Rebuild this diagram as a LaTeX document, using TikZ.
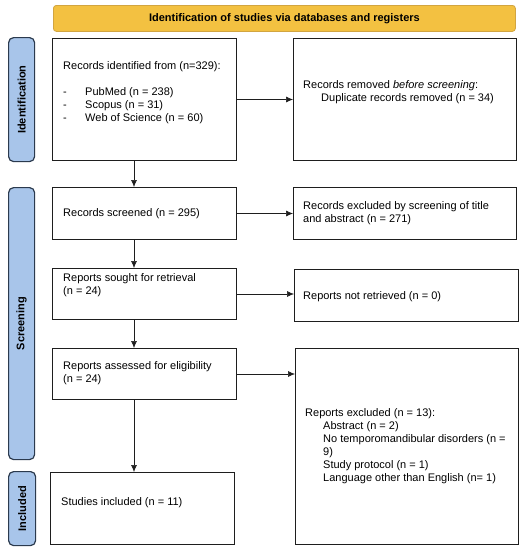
\documentclass[tikz,border=0pt]{standalone}
\usepackage{fontspec}
\setmainfont{Liberation Sans}
\usetikzlibrary{arrows.meta}
\definecolor{bannerfill}{HTML}{F3C141}
\definecolor{bannerdraw}{HTML}{D2A540}
\definecolor{sidefill}{HTML}{A8C5EA}
\definecolor{sidedraw}{HTML}{2B3A4E}
\definecolor{boxdraw}{HTML}{1E1E1E}
\tikzset{
  box/.style={draw=boxdraw, line width=1pt, rectangle, anchor=north west, inner sep=0pt},
  txt/.style={anchor=west, align=left, inner sep=0pt, font=\fontsize{11}{13}\selectfont},
  side/.style={draw=sidedraw, fill=sidefill, line width=1.2pt, rounded corners=5pt, anchor=north west, inner sep=0pt},
  sidelabel/.style={rotate=90, font=\fontsize{11}{13}\selectfont\bfseries, inner sep=0pt},
  arr/.style={line width=0.6pt, draw=boxdraw, -{Latex[length=7pt,width=6pt]}},
}
\begin{document}
\begin{tikzpicture}[x=1pt,y=-1pt]
\useasboundingbox (0,0) rectangle (524,550);
% banner
\node[draw=bannerdraw, fill=bannerfill, line width=0.8pt, rounded corners=3pt, anchor=north west, inner sep=0pt,
      minimum width=462pt, minimum height=26pt] (banner) at (53,5) {};
\node[font=\fontsize{11}{13}\selectfont\bfseries, inner sep=0pt] (bannertxt) at (banner.center) {Identification of studies via databases and registers};
% side bars
\node[side, minimum width=26pt, minimum height=124pt] (s1) at (8,37) {};
\node[sidelabel] (s1t) at (s1.center) {Identification};
\node[side, minimum width=26pt, minimum height=272pt] (s2) at (8,187) {};
\node[sidelabel] (s2t) at (s2.center) {Screening};
\node[side, minimum width=27pt, minimum height=74pt] (s3) at (8,471) {};
\node[sidelabel] (s3t) at (s3.center) {Included};
% left boxes
\node[box, minimum width=184pt, minimum height=122pt] (b1) at (52,38) {};
\node[box, minimum width=184pt, minimum height=52pt] (b2) at (52,187) {};
\node[box, minimum width=184pt, minimum height=51pt] (b3) at (52,268) {};
\node[box, minimum width=184pt, minimum height=51pt] (b4) at (52,348) {};
\node[box, minimum width=184pt, minimum height=72pt] (b5) at (50,472) {};
% right boxes
\node[box, minimum width=223pt, minimum height=122pt] (r1) at (293,38) {};
\node[box, minimum width=223pt, minimum height=52pt] (r2) at (293,187) {};
\node[box, minimum width=224pt, minimum height=52pt] (r3) at (294,269) {};
\node[box, minimum width=223pt, minimum height=196pt] (r4) at (295,348) {};
% texts
\node[txt] (b1t) at (63,93) {Records identified from (n=329):\\[13pt]
\makebox[22pt][l]{-}PubMed (n = 238)\\
\makebox[22pt][l]{-}Scopus (n = 31)\\
\makebox[22pt][l]{-}Web of Science (n = 60)};
\node[txt] (r1t) at (303,92.5) {Records removed \emph{before screening}:\\
\hspace*{18pt}Duplicate records removed (n = 34)};
\node[txt] (b2t) at (63,214) {Records screened (n = 295)};
\node[txt] (r2t) at (303,213.5) {Records excluded by screening of title\\and abstract (n = 271)};
\node[txt] (b3t) at (63,285.5) {Reports sought for retrieval\\(n = 24)};
\node[txt] (r3t) at (303,297) {Reports not retrieved (n = 0)};
\node[txt] (b4t) at (63,373.5) {Reports assessed for eligibility\\(n = 24)};
\node[txt] (r4t) at (305,446.5) {Reports excluded (n = 13):\\
\hspace*{18pt}Abstract (n = 2)\\
\hspace*{18pt}No temporomandibular disorders (n =\\
\hspace*{18pt}9)\\
\hspace*{18pt}Study protocol (n = 1)\\
\hspace*{18pt}Language other than English (n= 1)};
\node[txt] (b5t) at (61,503) {Studies included (n = 11)};
% arrows
\coordinate (ax) at (134,0);
\draw[arr] (ax |- b1.south) -- (ax |- b2.north);
\draw[arr] (ax |- b2.south) -- (ax |- b3.north);
\draw[arr] (ax |- b3.south) -- (ax |- b4.north);
\draw[arr] (ax |- b4.south) -- (ax |- b5.north);
\draw[arr] (b1.east) -- (b1.east -| r1.west);
\draw[arr] (b2.east) -- (b2.east -| r2.west);
\draw[arr] (b3.east) -- (b3.east -| r3.west);
\draw[arr] (b4.east) -- (b4.east -| r4.west);
\end{tikzpicture}
\end{document}
